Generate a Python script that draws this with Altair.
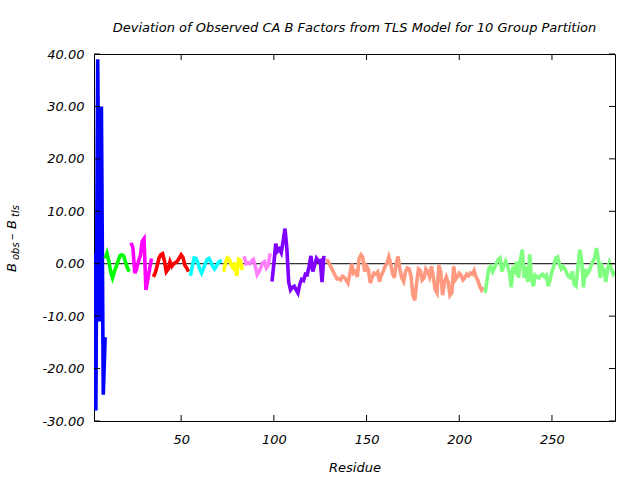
import altair as alt
import pandas as pd

# ---- data ----
group_names = ["g1", "g2", "g3", "g4", "g5", "g6", "g7", "g8", "g9", "g10"]
group_colors = ["#0000ff", "#00ff00", "#ff00ff", "#ff0000", "#00ffff",
                "#ffff00", "#ff80ff", "#8000ff", "#ff9980", "#80ff80"]
group_starts = [3, 9, 23, 35, 55, 73, 84, 99, 128, 214]

g1 = [2.0, -28.0, 39.0, -11.0, 30.0, -25.0, -14.0]
g2 = [1.0, 2.0, 0.5, -1.5, -2.7, -1.5, -0.5, 0.5, 1.5, 1.7, 1.5, 0.3, -0.8, -1.5]
g3 = [4.0, 3.0, -1.8, -1.0, 0.5, 1.5, 4.3, 4.8, -5.0, -3.0, -1.0, 1.0]
g4 = [-2.5, -1.8, -0.5, 1.0, 1.7, 1.9, 0.5, -1.5, -1.0, 0.4, -0.5, 0.0, 0.2,
      0.5, 1.1, 1.7, 1.2, -0.3, -0.8, -1.5]
g5 = [-2.3, -0.5, 1.1, 1.0, 0.2, -1.0, -1.8, -1.0, 0.0, 0.8, 1.0, 0.3, -0.5,
      -1.0, -0.5, 0.2, 0.5, 0.6]
g6 = [-1.5, 0.3, 1.1, 0.8, -0.3, -0.8, 0.2, -2.3, 0.8, 0.6, -1.2]
g7 = [1.4, 0.0, 0.2, 0.0, 0.5, 0.8, -0.5, -2.1, -1.5, -0.8, 0.2, 0.4, -0.8, -0.3, 2.0]
g8 = [-3.4, 0.0, 3.8, 2.4, 2.8, 2.1, 4.3, 6.7, 3.0, -3.5, -5.0, -4.5, -4.3, -5.0,
      -5.6, -3.9, -3.0, -3.2, -2.0, -2.1, -0.5, 1.5, -1.5, -0.3, 1.0, 0.5, 0.6,
      -3.5, 1.5]
g9 = [0.5, 0.6, 0.0, -0.8, -1.5, -2.2, -2.9, -2.8, -3.1, -2.4, -2.6, -3.1, -3.7,
      -2.0, 0.0, -1.8, -1.5, -2.5, 1.0, 1.7, 1.2, -1.5, -0.5, -1.1, -3.7, -2.6,
      -1.8, -2.0, -1.6, -3.4, -2.1, -1.5, -0.5, 0.1, 1.3, 0.0, -1.8, -2.7, 0.0,
      1.4, -1.2, -2.7, -3.4, -1.5, -0.8, -1.0, -2.4, -6.0, -7.0, -3.7, -1.0,
      -1.3, -3.1, -2.7, -1.0, -1.5, -2.5, -0.5, -2.5, -5.0, -5.6, -0.3, -1.5,
      -6.0, -3.5, -2.5, -3.5, -6.0, -5.5, -0.5, -3.0, -2.5, -1.8, -2.2, -3.1,
      -2.7, -2.0, -2.3, -1.8, -2.0, -1.3, -2.5, -3.1, -4.3, -5.0, -4.5]
g10 = [-5.6, -3.0, -0.8, -0.5, -1.5, -0.8, 0.1, 0.8, 1.1, -1.5, -0.5, 0.5, -0.3,
       -1.5, -4.5, -1.0, -1.5, 0.4, -2.7, 0.8, 2.7, -2.7, -0.5, -3.5, 1.8, -3.0,
       -4.3, -2.2, -2.5, -2.7, -2.2, -2.0, -2.5, -2.2, -4.3, -3.0, -1.5, -0.5,
       1.1, 1.3, -0.2, -1.0, -0.5, -1.0, -1.8, -2.5, -2.7, -1.5, -4.0, -4.3,
       -0.5, 2.7, 0.8, -4.5, -1.0, -2.0, -1.5, -0.5, 0.4, 1.1, 3.0, 0.8, -2.7,
       -0.5, -1.2, -3.5, -1.0, 0.2, -1.0, -2.0, -1.5]
group_values = [g1, g2, g3, g4, g5, g6, g7, g8, g9, g10]

x_ticks = [50, 100, 150, 200, 250]
y_ticks = [-30, -20, -10, 0, 10, 20, 30, 40]

rows = []
for name, start, vals in zip(group_names, group_starts, group_values):
    for i, v in enumerate(vals):
        rows.append({"residue": start + i, "dev": v, "group": name})
df = pd.DataFrame(rows)

W, H = 521, 367
FONT = "DejaVu Sans"

x_scale = alt.Scale(domain=[3, 284], nice=False, zero=False)
y_scale = alt.Scale(domain=[-30, 40], nice=False, zero=False)

x_axis = alt.Axis(values=x_ticks, title="Residue", grid=False, domain=False,
                  tickSize=0, labelPadding=12, labelFont=FONT,
                  labelFontStyle="italic", labelFontSize=13, labelColor="black",
                  titleFont=FONT, titleFontStyle="italic", titleFontWeight="normal",
                  titleFontSize=13, titleColor="black", titlePadding=15)
y_axis = alt.Axis(values=y_ticks, title=None, grid=False, domain=False,
                  tickSize=0, labelPadding=10, labelFont=FONT,
                  labelFontStyle="italic", labelFontSize=13, labelColor="black",
                  labelExpr="replace(format(datum.value, '.2f'), '\u2212', '-')")


def X(field):
    return alt.X(field, scale=x_scale, axis=x_axis, title="Residue")


def Y(field):
    return alt.Y(field, scale=y_scale, axis=y_axis, title=None)


lines = alt.Chart(df).mark_line(strokeWidth=3.6, clip=True, strokeCap="butt").encode(
    x=X("residue:Q"),
    y=Y("dev:Q"),
    color=alt.Color("group:N", scale=alt.Scale(domain=group_names, range=group_colors),
                    legend=None),
)

zero = alt.Chart(pd.DataFrame({"dev": [0]})).mark_rule(color="black", strokeWidth=1).encode(
    y=Y("dev:Q"), x=alt.value(0), x2=alt.value(W),
)

xt = pd.DataFrame({"residue": x_ticks})
yt = pd.DataFrame({"dev": y_ticks})
tick_bottom = alt.Chart(xt).mark_rule(color="black").encode(
    x=X("residue:Q"), y=alt.value(H), y2=alt.value(H - 6))
tick_top = alt.Chart(xt).mark_rule(color="black").encode(
    x=X("residue:Q"), y=alt.value(0), y2=alt.value(6))
tick_left = alt.Chart(yt).mark_rule(color="black").encode(
    y=Y("dev:Q"), x=alt.value(0), x2=alt.value(6))
tick_right = alt.Chart(yt).mark_rule(color="black").encode(
    y=Y("dev:Q"), x=alt.value(W), x2=alt.value(W - 6))


def label(txt, x, y, size):
    return alt.Chart(pd.DataFrame({"s": [txt]})).mark_text(
        angle=270, align="left", baseline="alphabetic", font=FONT,
        fontStyle="italic", fontSize=size, color="black").encode(
        text="s:N", x=alt.value(x), y=alt.value(y))


ytitle = (label("B", -78, 218, 13) + label("obs", -75, 206, 10)
          + label("\u2013", -78, 186, 13) + label("B", -78, 175, 13)
          + label("tls", -75, 163, 10))

chart = alt.layer(zero, lines, tick_bottom, tick_top, tick_left, tick_right, ytitle).properties(
    width=W, height=H,
    padding={"left": 94, "top": 54, "right": 25, "bottom": 59},
    autosize="none",
    background="white",
    title=alt.TitleParams(
        "Deviation of Observed CA B Factors from TLS Model for 10 Group Partition",
        font=FONT, fontSize=13, fontStyle="italic", fontWeight="normal",
        color="black", offset=13, anchor="middle"),
).configure_view(stroke="black", strokeWidth=1)

chart.save("out.html", embed_options={"renderer": "svg", "actions": False})
